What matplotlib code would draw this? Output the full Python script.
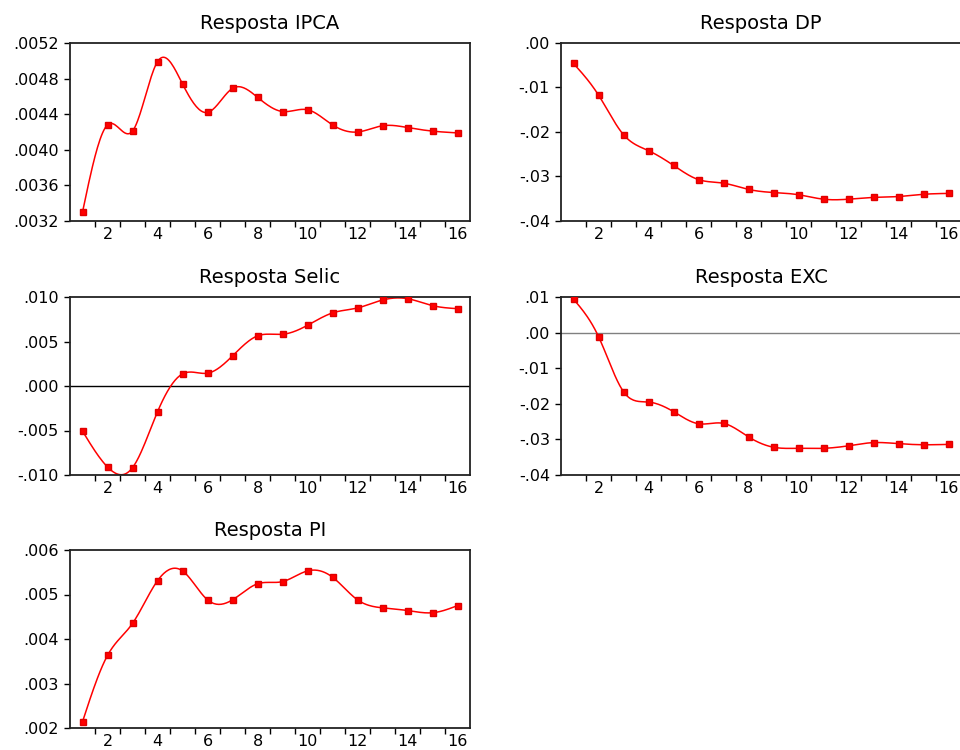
import numpy as np
import matplotlib
matplotlib.use("Agg")
import matplotlib.pyplot as plt
from matplotlib.ticker import FixedLocator, FuncFormatter

plt.rcParams['font.family'] = ['DejaVu Sans']

periods = np.arange(1, 17)

ipca = [0.00330, 0.00428, 0.00421, 0.00499, 0.00474, 0.00442, 0.00469, 0.00459,
        0.00443, 0.00445, 0.00428, 0.00420, 0.00427, 0.00425, 0.00421, 0.00419]
dp = [-0.0046, -0.0117, -0.0206, -0.0242, -0.0275, -0.0307, -0.0315, -0.0329,
      -0.0336, -0.0341, -0.0351, -0.0351, -0.0347, -0.0345, -0.0340, -0.0338]
selic = [-0.00507, -0.00910, -0.00918, -0.00290, 0.00136, 0.00144, 0.00338, 0.00563,
         0.00581, 0.00682, 0.00821, 0.00877, 0.00966, 0.00981, 0.00903, 0.00869]
exc = [0.0094, -0.0011, -0.0166, -0.0195, -0.0222, -0.0256, -0.0255, -0.0293,
       -0.0322, -0.0325, -0.0325, -0.0318, -0.0309, -0.0312, -0.0315, -0.0314]
pi = [0.00214, 0.00363, 0.00435, 0.00531, 0.00553, 0.00488, 0.00488, 0.00524,
      0.00529, 0.00553, 0.00539, 0.00488, 0.00470, 0.00464, 0.00459, 0.00475]

# title, series, y ticks, decimals, zero line colour
panels = [
    ("Resposta IPCA", ipca, [0.0032, 0.0036, 0.0040, 0.0044, 0.0048, 0.0052], 4, None),
    ("Resposta DP", dp, [-0.04, -0.03, -0.02, -0.01, 0.00], 2, None),
    ("Resposta Selic", selic, [-0.010, -0.005, 0.000, 0.005, 0.010], 3, "black"),
    ("Resposta EXC", exc, [-0.04, -0.03, -0.02, -0.01, 0.00, 0.01], 2, "#808080"),
    ("Resposta PI", pi, [0.002, 0.003, 0.004, 0.005, 0.006], 3, None),
]

# axes boxes in pixels (left, top) on a 960x750 canvas
W, H = 960, 750
boxes = [(70, 43), (561, 43), (70, 297), (561, 297), (70, 550)]
aw, ah = 400, 178


def spline(x, y, n=20):
    # natural cubic spline through the points, for the smooth EViews look
    x = np.asarray(x, float)
    y = np.asarray(y, float)
    k = len(x)
    h = np.diff(x)
    A = np.zeros((k, k))
    b = np.zeros(k)
    A[0, 0] = A[-1, -1] = 1
    for i in range(1, k - 1):
        A[i, i - 1] = h[i - 1]
        A[i, i] = 2 * (h[i - 1] + h[i])
        A[i, i + 1] = h[i]
        b[i] = 3 * ((y[i + 1] - y[i]) / h[i] - (y[i] - y[i - 1]) / h[i - 1])
    c = np.linalg.solve(A, b)
    xs, ys = [], []
    for i in range(k - 1):
        bb = (y[i + 1] - y[i]) / h[i] - h[i] * (2 * c[i] + c[i + 1]) / 3
        d = (c[i + 1] - c[i]) / (3 * h[i])
        t = np.linspace(0, h[i], n, endpoint=False)
        xs.append(x[i] + t)
        ys.append(y[i] + bb * t + c[i] * t ** 2 + d * t ** 3)
    xs.append([x[-1]])
    ys.append([y[-1]])
    return np.concatenate(xs), np.concatenate(ys)


def fmt(dec):
    def f(v, pos):
        s = f"{abs(v):.{dec}f}".replace("0.", ".", 1)
        return ("-" + s) if v < -1e-12 else s
    return FuncFormatter(f)


fig = plt.figure(figsize=(9.6, 7.5), dpi=100)

for (title, vals, yt, dec, zero), (lx, ty) in zip(panels, boxes):
    ax = fig.add_axes([lx / W, 1 - (ty + ah) / H, aw / W, ah / H])
    if zero:
        ax.axhline(0, color=zero, lw=1.0, zorder=1)
    sx, sy = spline(periods, vals)
    ax.plot(sx, sy, color="#ff0000", lw=1.1, zorder=2)
    ax.plot(periods, vals, ls="none", marker="s", ms=4.2, color="#ff0000",
            mec="#e00000", zorder=3)
    ax.set_xlim(0.5, 16.5)
    ax.set_ylim(yt[0], yt[-1])
    ax.set_yticks(yt)
    ax.yaxis.set_major_formatter(fmt(dec))
    # labels at even periods, tick marks between periods
    ax.xaxis.set_major_locator(FixedLocator(np.arange(1.5, 16.5, 1.0)))
    ax.xaxis.set_major_formatter(FuncFormatter(lambda v, p: ""))
    ax.xaxis.set_minor_locator(FixedLocator(np.arange(2, 17, 2)))
    ax.xaxis.set_minor_formatter(FuncFormatter(lambda v, p: f"{int(round(v))}"))
    ax.tick_params(axis="x", which="major", length=4, width=1, direction="out")
    ax.tick_params(axis="x", which="minor", length=0, labelsize=11.5, pad=4)
    ax.tick_params(axis="y", length=4, width=1, direction="out", labelsize=11.5, pad=4)
    for s in ax.spines.values():
        s.set_linewidth(1.3)
        s.set_color("#222222")
    ax.set_title(title, fontsize=14, pad=10)

fig.savefig("out.png", dpi=100)
